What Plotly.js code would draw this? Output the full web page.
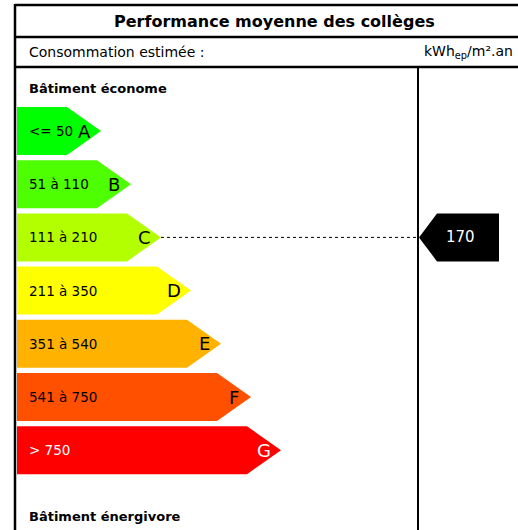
<!DOCTYPE html>
<html>
<head>
<meta charset="utf-8">
<script src="https://cdn.plot.ly/plotly-3.0.1.min.js"></script>
<style>html,body{margin:0;padding:0;background:#fff;}#chart{width:518px;height:530px;}</style>
</head>
<body>
<div id="chart"></div>
<script>
// ---- data ----
const classes = ["A", "B", "C", "D", "E", "F", "G"];
const rangeLabels = ["<= 50", "51 à 110", "111 à 210", "211 à 350", "351 à 540", "541 à 750", "> 750"];
const upperBounds = [50, 110, 210, 350, 540, 750, Infinity];
const classColors = ["#00ff00", "#4dff00", "#b3ff00", "#ffff00", "#ffb300", "#ff5000", "#ff0000"];
const textColors = ["#000", "#000", "#000", "#000", "#000", "#000", "#fff"];
const value = 170;
const title = "Performance moyenne des collèges";
const subtitle = "Consommation estimée :";
const unitLabel = "kWh<sub>ep</sub>/m².an";
const topLabel = "Bâtiment économe";
const bottomLabel = "Bâtiment énergivore";

// ---- layout constants (pixel-like coordinate system) ----
const X0 = 17, ROW0 = 107, PITCH = 53.2, H = 48, LEN0 = 67, STEP = 30, TIP = 34;
const DIV = 418;
const TX = 27;
const FONT = "DejaVu Sans, sans-serif";

const traces = [];
const ann = [];
classes.forEach((c, i) => {
  const top = ROW0 + i * PITCH, bot = top + H, mid = (top + bot) / 2;
  const end = LEN0 + STEP * i, tip = end + TIP;
  traces.push({
    type: "scatter", mode: "lines", fill: "toself",
    x: [X0, end, tip, end, X0, X0], y: [top, top, mid, bot, bot, top],
    line: {width: 0, color: classColors[i]}, fillcolor: classColors[i],
    hoverinfo: "skip", showlegend: false
  });
  ann.push({x: TX, y: mid, xref: "x", yref: "y", text: rangeLabels[i], showarrow: false,
    xanchor: "left", yanchor: "middle", font: {family: FONT, size: 13.5, color: textColors[i]}});
  ann.push({x: tip - 17, y: mid, xref: "x", yref: "y", text: classes[i], showarrow: false,
    xanchor: "center", yanchor: "middle", font: {family: FONT, size: 18, color: textColors[i]}});
});

// marker for value
const ci = upperBounds.findIndex(u => value <= u);
const mTop = ROW0 + ci * PITCH, mBot = mTop + H, mMid = (mTop + mBot) / 2;
const cTip = LEN0 + STEP * ci + TIP;
traces.push({type: "scatter", mode: "lines", x: [cTip, DIV], y: [mMid, mMid],
  line: {color: "#000", width: 1, dash: "dot"}, hoverinfo: "skip", showlegend: false});
traces.push({type: "scatter", mode: "lines", fill: "toself",
  x: [DIV + 1, DIV + 19, 499, 499, DIV + 19, DIV + 1], y: [mMid, mTop, mTop, mBot, mBot, mMid],
  line: {width: 0, color: "#000"}, fillcolor: "#000", hoverinfo: "skip", showlegend: false});
ann.push({x: 460, y: mMid, xref: "x", yref: "y", text: String(value), showarrow: false,
  xanchor: "center", yanchor: "middle", font: {family: FONT, size: 15, color: "#fff"}});

// header texts
ann.push({x: 274, y: 21, xref: "x", yref: "y", text: "<b>" + title + "</b>", showarrow: false,
  xanchor: "center", yanchor: "middle", font: {family: FONT, size: 16, color: "#000"}});
ann.push({x: TX, y: 52, xref: "x", yref: "y", text: subtitle, showarrow: false,
  xanchor: "left", yanchor: "middle", font: {family: FONT, size: 14, color: "#000"}});
ann.push({x: 422, y: 52, xref: "x", yref: "y", text: unitLabel, showarrow: false,
  xanchor: "left", yanchor: "middle", font: {family: FONT, size: 14, color: "#000"}});
ann.push({x: TX, y: 88, xref: "x", yref: "y", text: "<b>" + topLabel + "</b>", showarrow: false,
  xanchor: "left", yanchor: "middle", font: {family: FONT, size: 13, color: "#000"}});
ann.push({x: TX, y: 516, xref: "x", yref: "y", text: "<b>" + bottomLabel + "</b>", showarrow: false,
  xanchor: "left", yanchor: "middle", font: {family: FONT, size: 13, color: "#000"}});

const shapes = [
  {type: "line", xref: "x", yref: "y", x0: 15, x1: 540, y0: 5, y1: 5, line: {color: "#000", width: 2.5}},
  {type: "line", xref: "x", yref: "y", x0: 15, x1: 540, y0: 37, y1: 37, line: {color: "#000", width: 2.5}},
  {type: "line", xref: "x", yref: "y", x0: 15, x1: 540, y0: 67, y1: 67, line: {color: "#000", width: 2.5}},
  {type: "line", xref: "x", yref: "y", x0: 15, x1: 15, y0: 4, y1: 540, line: {color: "#000", width: 2.5}},
  {type: "line", xref: "x", yref: "y", x0: DIV, x1: DIV, y0: 67, y1: 540, line: {color: "#000", width: 2}}
];

Plotly.newPlot("chart", traces, {
  width: 518, height: 530, margin: {l: 0, r: 0, t: 0, b: 0},
  paper_bgcolor: "#fff", plot_bgcolor: "#fff",
  xaxis: {range: [0, 518], visible: false, fixedrange: true},
  yaxis: {range: [530, 0], visible: false, fixedrange: true},
  annotations: ann, shapes: shapes, showlegend: false
}, {displayModeBar: false, staticPlot: true});
</script>
</body>
</html>
